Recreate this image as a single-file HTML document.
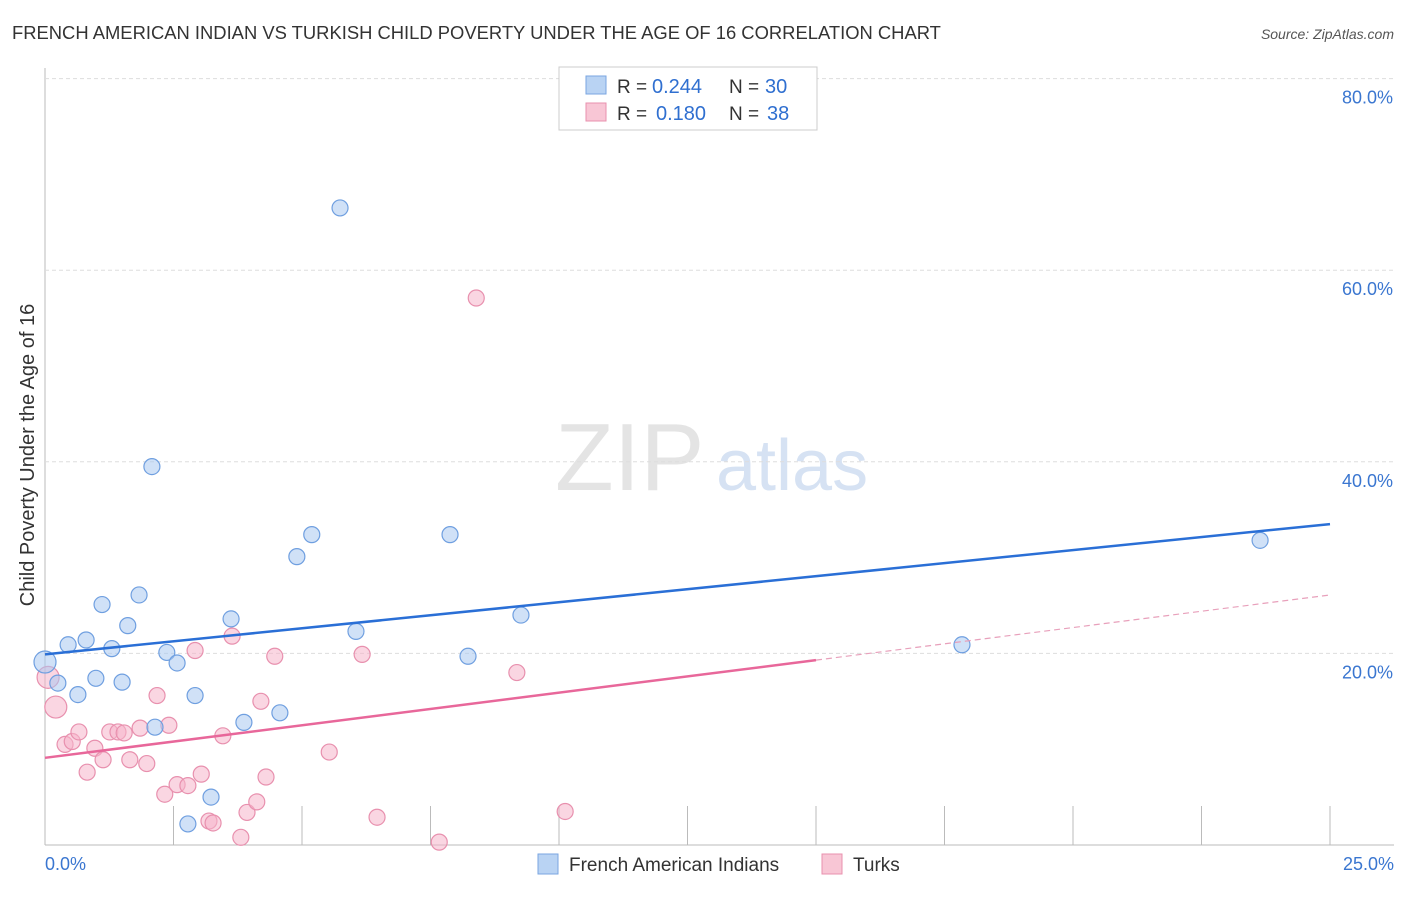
<!DOCTYPE html>
<html><head><meta charset="utf-8"><style>
body{margin:0;background:#fff;font-family:"Liberation Sans",sans-serif;}
svg text{font-family:"Liberation Sans",sans-serif;}
</style></head><body>
<svg id="chart" width="1406" height="892">
<text x="12" y="39" font-size="18.4" fill="#333">FRENCH AMERICAN INDIAN VS TURKISH CHILD POVERTY UNDER THE AGE OF 16 CORRELATION CHART</text>
<text x="1394" y="39" font-size="14" fill="#555" font-style="italic" text-anchor="end">Source: ZipAtlas.com</text>
<text x="555" y="490" font-size="96" fill="#e4e4e4" font-family="Liberation Serif">ZIP</text>
<text x="716" y="490" font-size="72" fill="#d6e2f3">atlas</text>
<text x="-455" y="34" transform="rotate(-90)" font-size="20" fill="#333" text-anchor="middle">Child Poverty Under the Age of 16</text>
<g id="grid"></g><g id="marks"></g>
<g>
<rect x="559" y="67" width="258" height="63" fill="#fff" stroke="#ccc"/>
<rect x="586" y="76" width="20" height="18" fill="#b9d3f3" stroke="#7aa6e0"/>
<rect x="586" y="103" width="20" height="18" fill="#f8c6d5" stroke="#e890ae"/>
<text x="617" y="93" font-size="19" fill="#333">R =</text>
<text x="652" y="93" font-size="20" fill="#2f6fd0">0.244</text>
<text x="729" y="93" font-size="19" fill="#333">N =</text>
<text x="765" y="93" font-size="20" fill="#2f6fd0">30</text>
<text x="617" y="120" font-size="19" fill="#333">R =</text>
<text x="656" y="120" font-size="20" fill="#2f6fd0">0.180</text>
<text x="729" y="120" font-size="19" fill="#333">N =</text>
<text x="767" y="120" font-size="20" fill="#2f6fd0">38</text>
</g>
<g>
<rect x="538" y="854" width="20" height="20" fill="#b9d3f3" stroke="#7aa6e0"/>
<text x="569" y="871" font-size="19" fill="#333">French American Indians</text>
<rect x="822" y="854" width="20" height="20" fill="#f8c6d5" stroke="#e890ae"/>
<text x="853" y="871" font-size="19" fill="#333">Turks</text>
</g>
</svg>
<script>
const blueX=[0.0,0.25,0.45,0.64,0.8,0.99,1.11,1.3,1.5,1.61,1.83,2.08,2.14,2.37,2.57,2.92,2.78,3.23,3.62,3.87,4.57,4.9,5.19,5.74,6.05,7.88,8.23,9.26,17.84,23.64];
const blueY=[19.1,16.9,20.9,15.7,21.4,17.4,25.1,20.5,17.0,22.9,26.1,39.5,12.3,20.1,19.0,15.6,2.2,5.0,23.6,12.8,13.8,30.1,32.4,66.5,22.3,32.4,19.7,24.0,20.9,31.8];
const pinkX=[0.06,0.21,0.39,0.53,0.66,0.82,0.97,1.13,1.26,1.42,1.54,1.65,1.85,1.98,2.18,2.33,2.41,2.57,2.78,2.92,3.04,3.19,3.27,3.46,3.64,3.81,3.93,4.12,4.2,4.3,4.47,5.53,6.17,6.46,7.67,8.39,9.18,10.12];
const pinkY=[17.5,14.4,10.5,10.8,11.8,7.6,10.1,8.9,11.8,11.8,11.7,8.9,12.2,8.5,15.6,5.3,12.5,6.3,6.2,20.3,7.4,2.5,2.3,11.4,21.8,0.8,3.4,4.5,15.0,7.1,19.7,9.7,19.9,2.9,0.3,57.1,18.0,3.5];
const blueTrend=[19.9,33.5];
const pinkTrend=[9.1,26.1];
const pinkSolidEnd=15;
const yTicks=[20,40,60,80];
const xTicks=[0,2.5,5,7.5,10,12.5,15,17.5,20,22.5,25];
const NS='http://www.w3.org/2000/svg';
const sx=v=>45+v*51.4, sy=v=>845-v*9.58;
function mk(t,a,p){const e=document.createElementNS(NS,t);for(const k in a)e.setAttribute(k,a[k]);p.appendChild(e);return e;}
const g=document.getElementById('grid'),m=document.getElementById('marks');
const ax=mk('line',{x1:45,y1:68,x2:45,y2:845,stroke:'#bbb'},g);

const bx=mk('line',{x1:45,y1:845,x2:1394,y2:845,stroke:'#bbb'},g);

yTicks.forEach(t=>{const l=mk('line',{x1:45,x2:1394,y1:sy(t),y2:sy(t),stroke:'#ddd','stroke-dasharray':'4,3'},g);

const tx=mk('text',{x:1393,y:sy(t)+25,'font-size':18,fill:'#3a76d0','text-anchor':'end'},g);tx.textContent=t.toFixed(1)+'%';
});
xTicks.forEach(t=>{const l=mk('line',{x1:sx(t),x2:sx(t),y1:806,y2:845,stroke:'#bbb'},g);
});
[[0,'0.0%','start',45],[25,'25.0%','end',1394]].forEach(([v,s,a,x])=>{const tx=mk('text',{x:x,y:870,'font-size':18,fill:'#3a76d0','text-anchor':a},g);tx.textContent=s;
});
function pts(X,Y,fill,stroke,name){X.forEach((x,i)=>{const r=x<0.22?11:8;const c=mk('circle',{cx:sx(x),cy:sy(Y[i]),r:r,fill:fill,'fill-opacity':0.55,stroke:stroke,'stroke-width':1.2},m);
});}
pts(pinkX,pinkY,'#f5b5ca','#e890ae','turks-point');
pts(blueX,blueY,'#a9c8f0','#6f9fe0','french-american-indian-point');
const bl=mk('line',{x1:sx(0),y1:sy(blueTrend[0]),x2:sx(25),y2:sy(blueTrend[1]),stroke:'#2a6fd6','stroke-width':2.5},m);

const py=x=>pinkTrend[0]+(pinkTrend[1]-pinkTrend[0])*x/25;
const pl=mk('line',{x1:sx(0),y1:sy(py(0)),x2:sx(pinkSolidEnd),y2:sy(py(pinkSolidEnd)),stroke:'#e8679a','stroke-width':2.5},m);

const pd=mk('line',{x1:sx(pinkSolidEnd),y1:sy(py(pinkSolidEnd)),x2:sx(25),y2:sy(py(25)),stroke:'#e8a0bb','stroke-width':1.2,'stroke-dasharray':'6,4'},m);

</script>
</body></html>
